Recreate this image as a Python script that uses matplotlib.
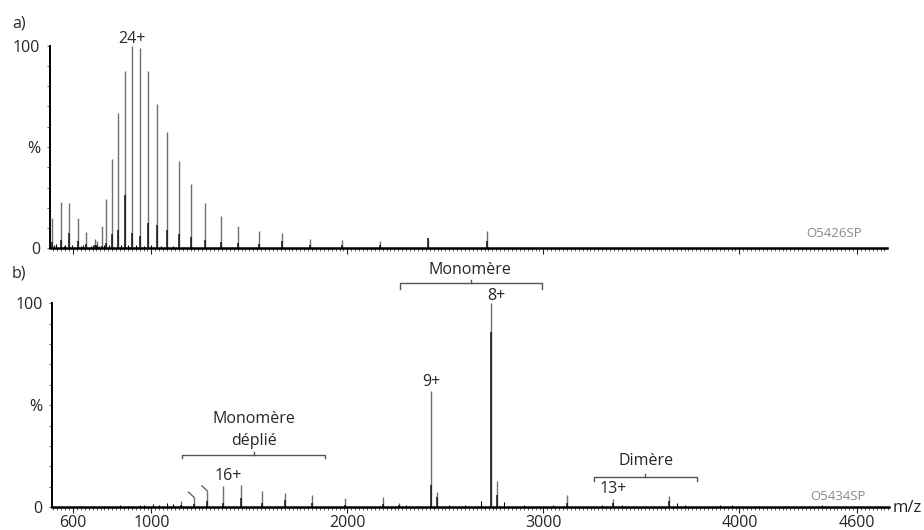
"""
Mass spectra of the two samples (O5426SP and O5434SP), drawn as stick spectra.
"""

import matplotlib
matplotlib.use("Agg")
import matplotlib.pyplot as plt
from matplotlib.ticker import MultipleLocator

plt.rcParams["font.family"] = ["Open Sans", "DejaVu Sans"]
TXT = "#262626"
FS = 11.5

# panel a) : main peaks (m/z, % intensity) and the darker base of each peak
a_mz = [491, 537, 580, 624, 666, 712, 721, 746, 770, 797, 830, 865, 901, 940,
        981, 1029, 1081, 1141, 1202, 1272, 1354, 1443, 1549, 1666, 1809, 1971,
        2168, 2410, 2712]
a_int = [14.8, 23.0, 22.2, 14.8, 8.2, 4.4, 3.8, 11.2, 24.2, 44.2, 67.0, 87.7,
         100.0, 99.0, 87.7, 71.2, 57.6, 43.1, 31.7, 22.2, 16.0, 11.0, 8.5, 7.4,
         4.4, 4.1, 3.4, 4.1, 8.7]
a_base = [3.0, 4.0, 7.7, 3.5, 2.0, 1.5, 1.5, 1.0, 2.5, 7.0, 9.0, 26.5,
          7.5, 6.0, 12.6, 11.5, 9.0, 7.0, 5.6, 4.0, 3.0, 2.5, 2.0, 3.5,
          1.5, 1.5, 1.5, 5.0, 3.5]
a_noise_mz = [505, 515, 552, 560, 596, 640, 652, 690, 700, 733, 758, 785,
              845, 880, 920, 960, 1000, 1050, 1110, 1170]
a_noise_int = [1.5, 2.0, 1.2, 1.8, 1.5, 1.2, 1.6, 1.0, 1.4, 1.2, 1.5, 1.8,
               1.6, 1.4, 1.8, 1.2, 1.5, 1.2, 1.0, 0.8]

# panel b)
b_mz = [1151, 1217, 1285, 1367, 1456, 1563, 1682, 1821, 1986, 2183, 2264,
        2427, 2455, 2731, 2761, 3118, 3356, 3639]
b_int = [3.0, 4.8, 7.9, 10.5, 10.8, 8.0, 6.7, 6.0, 4.3, 4.8, 1.8,
         57.0, 7.2, 100.0, 12.8, 6.0, 3.9, 5.6]
b_base = [1.0, 1.5, 3.0, 2.0, 4.5, 2.0, 3.5, 2.0, 1.0, 1.5, 1.0,
          11.0, 5.0, 86.0, 6.0, 2.0, 2.0, 3.0]
b_noise_mz = [640, 700, 760, 840, 880, 940, 960, 1010, 1040, 1080, 1110,
              2300, 2350, 2520, 2600, 2680, 2800, 2900, 3050, 3300, 3400,
              3680, 3720, 3900, 3960, 4100, 4250, 4420]
b_noise_int = [0.5, 0.6, 0.5, 0.8, 0.7, 1.0, 1.2, 1.5, 1.2, 1.8, 1.4,
               0.8, 0.7, 1.0, 0.9, 3.0, 2.5, 1.0, 0.8, 1.0, 1.0,
               2.0, 1.2, 0.8, 1.0, 0.7, 0.6, 0.9]

xtick_vals = [600, 1000, 2000, 3000, 4000, 4600]


def style_axis(ax, xlim, show_labels):
    ax.set_xlim(*xlim)
    ax.set_ylim(0, 100)
    for s in ["top", "right"]:
        ax.spines[s].set_visible(False)
    ax.spines["bottom"].set_linewidth(1.8)
    ax.spines["left"].set_linewidth(1.4)
    ax.set_xticks(xtick_vals)
    ax.xaxis.set_minor_locator(MultipleLocator(20))
    ax.tick_params(axis="x", which="major", length=4, width=0.8, color="#222",
                   labelsize=FS, labelcolor=TXT, pad=2)
    ax.tick_params(axis="x", which="minor", length=2.5, width=0.6, color="#444")
    if not show_labels:
        ax.set_xticklabels([])
    ax.set_yticks([0, 50, 100])
    ax.set_yticklabels(["0", "%", "100"])
    ax.yaxis.set_minor_locator(MultipleLocator(10))
    ax.tick_params(axis="y", which="both", length=2, width=0.6, color="#444",
                   labelsize=FS, labelcolor=TXT, pad=5)


def draw_sticks(ax, mz, inten, base, noise_mz, noise_int):
    ax.vlines(noise_mz, 0, noise_int, color="black", lw=0.8)
    ax.vlines(mz, 0, inten, color="#707070", lw=1.0)
    ax.vlines(mz, 0, base, color="#111", lw=1.1)


def bracket(ax, x0, x1, y, drop, rise):
    xc = (x0 + x1) / 2
    ax.plot([x0, x0, x1, x1], [y - drop, y, y, y - drop], color="#555", lw=1.0,
            clip_on=False)
    ax.plot([xc, xc], [y, y + rise], color="#555", lw=1.0, clip_on=False)


fig = plt.figure(figsize=(9.24, 5.30), dpi=100)

# ---- a)
ax1 = fig.add_axes([50 / 924, 1 - 248.3 / 530, 837 / 924, 202.6 / 530])
style_axis(ax1, (483, 4753), False)
draw_sticks(ax1, a_mz, a_int, a_base, a_noise_mz, a_noise_int)
ax1.text(a_mz[12], 103.5, "24+", ha="center", va="center", fontsize=FS,
         color=TXT, clip_on=False)
ax1.text(4483, 7.4, "O5426SP", ha="center", va="center", fontsize=9.5,
         color="#8a8a8a")
fig.text(12 / 924, 1 - 24 / 530, "a)", ha="left", va="center", fontsize=FS,
         color=TXT)

# ---- b)
ax2 = fig.add_axes([52.3 / 924, 1 - 507 / 530, 836.7 / 924, 203.7 / 530])
style_axis(ax2, (494, 4763), True)
draw_sticks(ax2, b_mz, b_int, b_base, b_noise_mz, b_noise_int)
# small leader marks on two of the unfolded monomer peaks
for i in (1, 2):
    ax2.plot([b_mz[i] - 28, b_mz[i]], [b_int[i] + 2.5, b_int[i]], color="#555",
             lw=0.9)

bracket(ax2, 2268, 2993, 110, 3, 1.5)
ax2.text(2626, 116.5, "Monomère", ha="center", va="center", fontsize=FS,
         color=TXT, clip_on=False)
ax2.text(2760, 103.5, "8+", ha="center", va="center", fontsize=FS, color=TXT,
         clip_on=False)
ax2.text(b_mz[11], 61.5, "9+", ha="center", va="center", fontsize=FS,
         color=TXT)

bracket(ax2, 1156, 1886, 25.5, 1.5, 1.5)
ax2.text(1523, 43, "Monomère", ha="center", va="center", fontsize=FS,
         color=TXT)
ax2.text(1523, 32.4, "déplié", ha="center", va="center", fontsize=FS,
         color=TXT)
ax2.text(1392, 15.2, "16+", ha="center", va="center", fontsize=FS, color=TXT)

bracket(ax2, 3258, 3782, 14.6, 1.7, 1.5)
ax2.text(3523, 22.7, "Dimère", ha="center", va="center", fontsize=FS,
         color=TXT)
ax2.text(3356, 8.7, "13+", ha="center", va="center", fontsize=FS, color=TXT)
ax2.text(4503, 5.4, "O5434SP", ha="center", va="center", fontsize=9.5,
         color="#8a8a8a")

fig.text(12 / 924, 1 - 274 / 530, "b)", ha="left", va="center", fontsize=FS,
         color=TXT)
fig.text(893 / 924, 1 - 508 / 530, "m/z", ha="left", va="center", fontsize=FS + 0.5,
         color=TXT)

fig.savefig("out.png", dpi=100)
